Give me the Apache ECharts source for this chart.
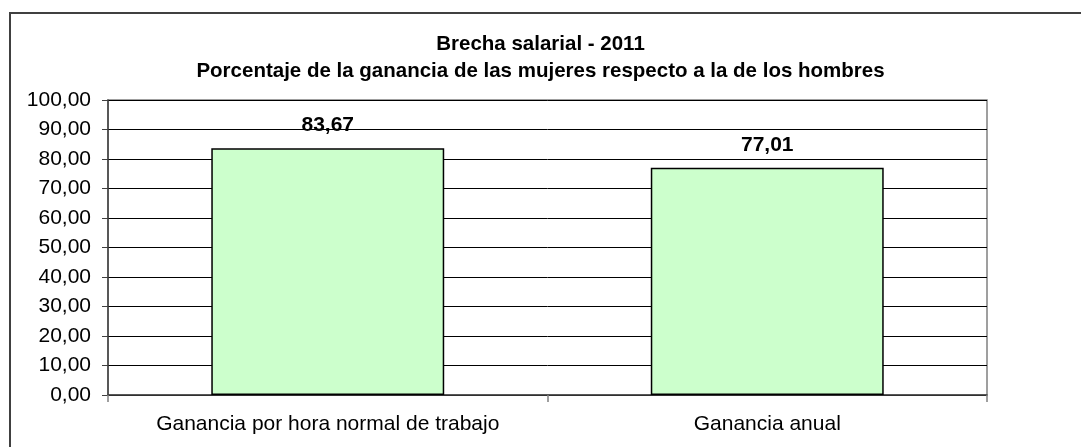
<!DOCTYPE html>
<html><head><meta charset="utf-8">
<script src="https://cdn.jsdelivr.net/npm/echarts@6/dist/echarts.min.js"></script>
<style>html,body{margin:0;padding:0;background:#fff}#c{width:1081px;height:447px}</style>
</head><body><div id="c"></div>
<script>
const titleLines = ['Brecha salarial - 2011', 'Porcentaje de la ganancia de las mujeres respecto a la de los hombres'];
const categories = ['Ganancia por hora normal de trabajo', 'Ganancia anual'];
const values = [83.67, 77.01];
const yMin = 0, yMax = 100, yStep = 10;

const FONT = '"Liberation Sans", Arial, sans-serif';
const chart = echarts.init(document.getElementById('c'), null, {renderer: 'canvas'});
const fmt = v => v.toFixed(2).replace('.', ',');
chart.setOption({
  animation: false,
  backgroundColor: '#fff',
  textStyle: {fontFamily: FONT},
  graphic: [{
    type: 'rect', shape: {x: 10, y: 13, width: 1200, height: 600},
    style: {fill: 'none', stroke: '#404040', lineWidth: 2}, silent: true
  }],
  title: {
    text: titleLines.join('\n'), left: 'center', top: 26,
    textStyle: {fontSize: 20.5, fontWeight: 'bold', color: '#000', lineHeight: 27, fontFamily: FONT}
  },
  grid: {left: 108, right: 94, top: 100, bottom: 52, show: true, borderColor: '#808080', borderWidth: 1.5, backgroundColor: 'transparent'},
  xAxis: {
    type: 'category', data: categories,
    axisLine: {show: true, lineStyle: {color: '#404040', width: 1.5}},
    axisTick: {show: true, alignWithLabel: false, length: 7, lineStyle: {color: '#808080', width: 1.5}},
    axisLabel: {interval: 0, fontSize: 21, color: '#000', margin: 19, fontFamily: FONT}
  },
  yAxis: {
    type: 'value', min: yMin, max: yMax, interval: yStep,
    axisLine: {show: true, lineStyle: {color: '#404040', width: 1.5}},
    axisTick: {show: true, length: 6, lineStyle: {color: '#404040'}},
    axisLabel: {fontSize: 21, color: '#000', margin: 17, formatter: fmt, fontFamily: FONT},
    splitLine: {show: true, lineStyle: {color: '#000', width: 1}}
  },
  series: [{
    type: 'bar', data: values, barWidth: '53%',
    itemStyle: {color: '#CCFFCC', borderColor: '#000', borderWidth: 1.5},
    label: {show: true, position: 'top', distance: 12, formatter: p => fmt(p.value),
      fontSize: 21, fontWeight: 'bold', color: '#000', fontFamily: FONT}
  }]
});
</script></body></html>
